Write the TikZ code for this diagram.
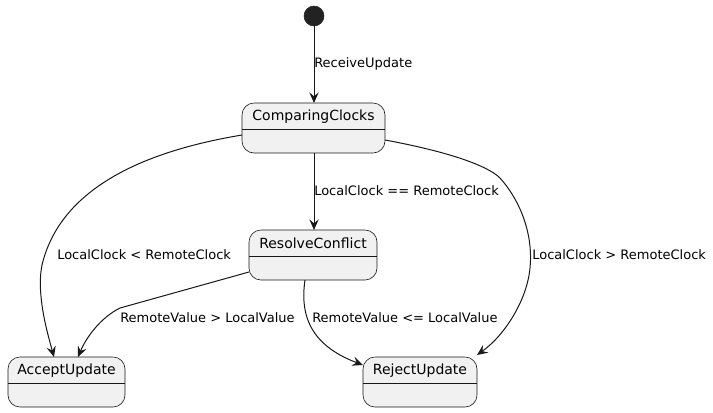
\documentclass[tikz,border=0pt]{standalone}
\usepackage{fontspec}
\setmainfont{DejaVu Sans}
\usetikzlibrary{arrows.meta,calc}
\definecolor{boxfill}{HTML}{F1F1F1}
\definecolor{lineclr}{HTML}{181818}
\definecolor{initfill}{HTML}{222222}
\tikzset{
  statebox/.style={draw=lineclr, line width=0.45pt, fill=boxfill, rounded corners=9pt,
    minimum height=37.5pt, inner sep=0pt, outer sep=0pt},
  sepline/.style={draw=lineclr, line width=0.45pt},
  statetext/.style={inner sep=0pt, font=\fontsize{10.5}{12}\selectfont},
  edgelabel/.style={inner sep=0pt, anchor=west, font=\fontsize{9.75}{11}\selectfont},
  conn/.style={draw=lineclr, line width=0.75pt, -{Stealth[length=8pt,width=7pt,inset=3pt]}},
  initstate/.style={circle, fill=initfill, draw=initfill, minimum size=15pt, inner sep=0pt, outer sep=0pt}
}
\newcommand\mkstate[5]{%
  \node[statebox, minimum width=#4*0.75pt, anchor=north] (#1) at (#2,#3) {};
  \draw[sepline] ($(#1.north west)+(0,26.5)$) -- ($(#1.north east)+(0,26.5)$);
  \node[statetext] (#1-t) at ($(#1.north)+(0,13.5)$) {#5};
}
\begin{document}
\begin{tikzpicture}[x=0.75pt,y=-0.75pt]
\useasboundingbox (0,0) rectangle (713,412);
\node[initstate] (init) at (314,16) {};
\mkstate{cc}{313.5}{103}{143}{ComparingClocks}
\mkstate{rc}{313}{230}{128}{ResolveConflict}
\mkstate{au}{66.5}{357}{117}{AcceptUpdate}
\mkstate{ru}{420}{357}{114}{RejectUpdate}

% init -> cc
\draw[conn] (init.south) -- (init.south |- cc.north);
\node[edgelabel] (l1) at (314,64) {ReceiveUpdate};
% cc -> rc
\draw[conn] (cc.south |- cc.south) ++(0.5,0) coordinate (ccs) -- (ccs |- rc.north);
\node[edgelabel] (l2) at (314,191) {LocalClock == RemoteClock};
% cc -> au
\draw[conn] ($(cc.west)+(0,7)$) .. controls (140,152) and (60,190) .. (42,265)
  .. controls (36,295) and (48,335) .. ($(au.north)+(-12.5,0)$);
\node[edgelabel] (l3) at (57,255) {LocalClock < RemoteClock};
% rc -> au
\draw[conn] ($(rc.west)+(0,17)$) -- (120,308) .. controls (100,318) and (86,338) .. ($(au.north)+(11.5,0)$);
\node[edgelabel] (l4) at (120,318) {RemoteValue > LocalValue};
% rc -> ru
\draw[conn] ($(rc.south)+(-8,0)$) .. controls (299,320) and (315,347) .. ($(ru.north west)+(0,8)$);
\node[edgelabel] (l5) at (312,318) {RemoteValue <= LocalValue};
% cc -> ru
\draw[conn] ($(cc.east)+(0,12)$) .. controls (450,152) and (488,166) .. (500,178)
  .. controls (524,205) and (533,240) .. (530,268)
  .. controls (527,300) and (505,335) .. ($(ru.north east)+(0,-2)$);
\node[edgelabel] (l6) at (532,255) {LocalClock > RemoteClock};
\end{tikzpicture}
\end{document}
